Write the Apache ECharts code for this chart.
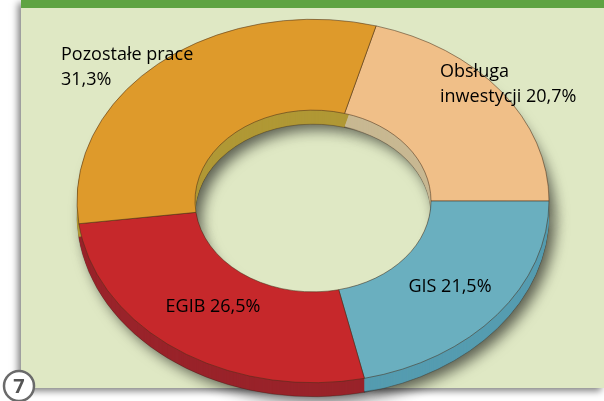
<!DOCTYPE html>
<html>
<head>
<meta charset="utf-8">
<script src="https://cdn.jsdelivr.net/npm/echarts@6/dist/echarts.min.js"></script>
<style>
  html, body { margin: 0; padding: 0; background: #fff; }
  #chart { width: 604px; height: 401px; }
</style>
</head>
<body>
<div id="chart"></div>
<script>
// slices, clockwise from the top
const categories = ['Obsługa inwestycji', 'GIS', 'EGIB', 'Pozostałe prace'];
const shares = [20.7, 21.5, 26.5, 31.3];
const topColors = ['#f0bf88', '#6aafbf', '#c6282b', '#de9a2b'];
const sideColors = ['#c8b892', '#559cb0', '#99232a', '#b09835'];

const cx = 313, cy = 201, R = 236, R0 = 118, squash = 0.77, depth = 14;
const startDeg = 15.5 - 90;
const total = shares.reduce((a, b) => a + b, 0);
const starts = [];
let acc = 0;
shares.forEach(v => { starts.push(acc); acc += v; });

const fmt = v => v.toFixed(1).replace('.', ',') + '%';

function slice(i, dy, style) {
    const a0 = (startDeg + starts[i] / total * 360) * Math.PI / 180;
    const a1 = (startDeg + (starts[i] + shares[i]) / total * 360) * Math.PI / 180;
    return {
        type: 'sector',
        x: cx,
        y: cy + dy,
        scaleY: squash,
        shape: { cx: 0, cy: 0, r: R, r0: R0, startAngle: a0, endAngle: a1, clockwise: true },
        style: Object.assign({ strokeNoScale: true }, style)
    };
}

// label text + where it sits
const labelTexts = [
    'Obsługa\ninwestycji ' + fmt(shares[0]),
    'GIS ' + fmt(shares[1]),
    'EGIB ' + fmt(shares[2]),
    'Pozostałe prace\n' + fmt(shares[3])
];
const labelPos = [
    { x: 440, y: 59, align: 'left' },
    { x: 450, y: 287, align: 'center' },
    { x: 213, y: 307, align: 'center' },
    { x: 61, y: 42, align: 'left' }
];

const chart = echarts.init(document.getElementById('chart'));

const option = {
    animation: false,
    graphic: [
        {
            type: 'rect', z: 0,
            shape: { x: 21, y: 0, width: 583, height: 388 },
            style: { fill: '#dfe8c4', shadowBlur: 7, shadowColor: 'rgba(0,0,0,0.5)', shadowOffsetX: -3, shadowOffsetY: 3 }
        },
        {
            type: 'rect', z: 0,
            shape: { x: 21, y: 0, width: 583, height: 8 },
            style: { fill: '#5fa342' }
        },
        {
            type: 'circle', z: 100,
            shape: { cx: 19, cy: 386, r: 15 },
            style: { fill: '#fff', stroke: '#6a6a6a', lineWidth: 2.5 }
        },
        {
            type: 'text', z: 101, x: 19, y: 387,
            style: { text: '7', fill: '#555', font: 'bold 20px "Open Sans"', align: 'center', verticalAlign: 'middle' }
        }
    ].concat(labelTexts.map((t, i) => ({
        type: 'text', z: 100,
        x: labelPos[i].x, y: labelPos[i].y,
        style: {
            text: t, fill: '#000', font: '18px "Open Sans"', lineHeight: 25,
            align: labelPos[i].align,
            verticalAlign: labelPos[i].align === 'left' ? 'top' : 'middle'
        }
    }))),
    series: [
        {
            // bottom layer, casts the shadow
            type: 'custom', coordinateSystem: 'none', z: 2, silent: true,
            data: shares,
            renderItem: (params) => slice(params.dataIndex, depth, {
                fill: sideColors[params.dataIndex],
                stroke: 'rgba(50,30,20,0.5)', lineWidth: 0.8,
                shadowBlur: 14, shadowColor: 'rgba(0,0,0,0.6)', shadowOffsetX: 6, shadowOffsetY: 5
            })
        },
        {
            // side walls
            type: 'custom', coordinateSystem: 'none', z: 3, silent: true,
            data: shares,
            renderItem: (params) => {
                const children = [];
                for (let d = depth - 1; d >= 1; d--) {
                    children.push(slice(params.dataIndex, d, { fill: sideColors[params.dataIndex] }));
                }
                return { type: 'group', children: children };
            }
        },
        {
            // top face
            type: 'custom', coordinateSystem: 'none', z: 4, silent: true,
            data: shares,
            renderItem: (params) => slice(params.dataIndex, 0, {
                fill: topColors[params.dataIndex],
                stroke: 'rgba(70,45,25,0.75)', lineWidth: 0.8
            })
        }
    ]
};

chart.setOption(option);
</script>
</body>
</html>
